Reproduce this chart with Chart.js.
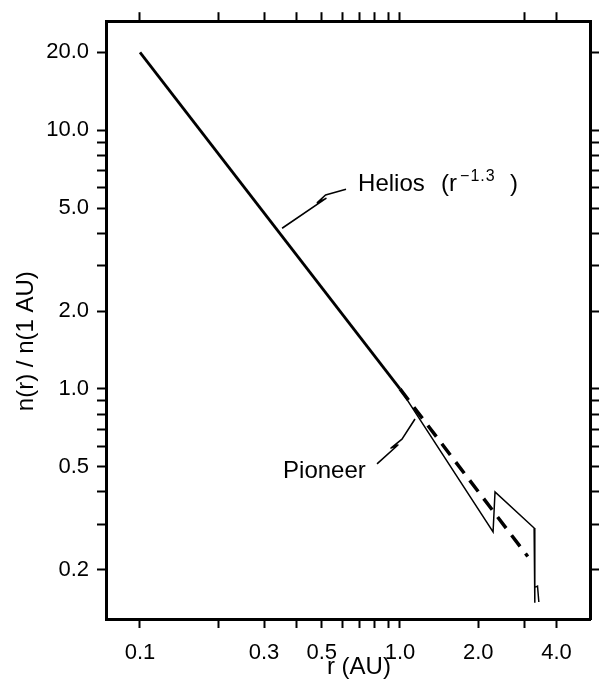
<!DOCTYPE html>
<html>
<head>
<meta charset="utf-8">
<script src="https://cdn.jsdelivr.net/npm/chart.js@4.4.0/dist/chart.umd.min.js"></script>
<style>
  body { margin: 0; background: #fff; }
  #wrap { width: 602px; height: 681px; }
</style>
</head>
<body>
<div id="wrap"><canvas id="density-chart"></canvas></div>
<script>
// Helios fit (r^-1.3), measured part and extrapolation
const heliosR = [0.1, 1.0];
const heliosN = [20.0, 1.0];
const heliosExtR = [1.0, 3.1];
const heliosExtN = [1.0, 0.225];
// Pioneer trace
const pioneerR = [1.0, 2.28, 2.32, 3.28, 3.30, 3.30, 3.38, 3.42];
const pioneerN = [1.0, 0.28, 0.40, 0.29, 0.149, 0.171, 0.173, 0.150];

const xTickValues = [0.1, 0.2, 0.3, 0.4, 0.5, 0.6, 0.7, 0.8, 0.9, 1, 2, 3, 4];
const xTopTickValues = [0.1, 0.2, 0.3, 0.4, 0.5, 0.6, 0.7, 0.8, 0.9, 1, 3, 4];
const xTickLabels = [0.1, 0.3, 0.5, 1, 2, 4];
const yTickValues = [0.2, 0.3, 0.4, 0.5, 0.6, 0.7, 0.8, 0.9, 1, 2, 3, 4, 5, 6, 7, 8, 9, 10, 20];
const yTickLabels = [0.2, 0.5, 1, 2, 5, 10, 20];

const toPoints = (xs, ys) => xs.map((v, i) => ({ x: v, y: ys[i] }));

// leader lines for the labels, in data coordinates (r, n)
const leaderLines = [
  [[0.620, 5.91], [0.517, 5.62], [0.481, 5.25], [0.519, 5.45], [0.352, 4.18]],
  [[0.816, 0.513], [0.982, 0.607], [0.923, 0.591], [1.018, 0.640], [1.142, 0.765]]
];

const FONT = "'Liberation Sans', Arial, sans-serif";

const xRange = { min: 0.074, max: 5.38 };
const yRange = { min: 0.129, max: 26.4 };

const annotations = {
  id: 'annotations',
  afterDatasetsDraw(chart) {
    const { ctx, chartArea } = chart;
    const x = chart.scales.x, y = chart.scales.y;
    ctx.save();
    ctx.strokeStyle = '#000';
    ctx.fillStyle = '#000';
    ctx.lineWidth = 1.6;
    ctx.lineJoin = 'round';
    leaderLines.forEach(pts => {
      ctx.beginPath();
      pts.forEach((p, i) => {
        const px = x.getPixelForValue(p[0]), py = y.getPixelForValue(p[1]);
        if (i) ctx.lineTo(px, py); else ctx.moveTo(px, py);
      });
      ctx.stroke();
    });

    ctx.textBaseline = 'alphabetic';
    ctx.textAlign = 'left';
    // Helios (r^-1.3)
    const hx = x.getPixelForValue(0.69), hy = y.getPixelForValue(5.81);
    ctx.font = '24px ' + FONT;
    ctx.fillText('Helios', hx, hy);
    ctx.fillText('(r', hx + 83, hy);
    ctx.font = '16px ' + FONT;
    ctx.letterSpacing = '1px';
    ctx.fillText('\u22121.3', hx + 102, hy - 10);
    ctx.letterSpacing = '0px';
    ctx.font = '24px ' + FONT;
    ctx.fillText(')', hx + 152, hy);

    // Pioneer
    ctx.fillText('Pioneer', x.getPixelForValue(0.355), y.getPixelForValue(0.453));

    // axis titles
    ctx.textAlign = 'center';
    ctx.textBaseline = 'middle';
    ctx.fillText('r (AU)', x.getPixelForValue(0.695), chartArea.bottom + 48);
    ctx.translate(26, y.getPixelForValue(1.53));
    ctx.rotate(-Math.PI / 2);
    ctx.fillText('n(r) / n(1 AU)', 0, 0);
    ctx.restore();
  }
};

const tickFont = { family: FONT, size: 22 };
const gridCommon = { drawOnChartArea: false, drawTicks: true, tickLength: 9, tickWidth: 2, tickColor: '#000' };
const borderCommon = { display: true, color: '#000', width: 3 };

new Chart(document.getElementById('density-chart'), {
  type: 'line',
  data: {
    datasets: [
      {
        label: 'Helios',
        data: toPoints(heliosR, heliosN),
        borderColor: '#000',
        borderWidth: 2.8,
        pointRadius: 0,
        fill: false
      },
      {
        label: 'Helios extrapolated',
        data: toPoints(heliosExtR, heliosExtN),
        borderColor: '#000',
        borderWidth: 3.5,
        borderDash: [14, 9],
        pointRadius: 0,
        fill: false
      },
      {
        label: 'Pioneer',
        data: toPoints(pioneerR, pioneerN),
        borderColor: '#000',
        borderWidth: 1.5,
        pointRadius: 0,
        fill: false
      }
    ]
  },
  options: {
    responsive: true,
    maintainAspectRatio: false,
    animation: false,
    layout: { padding: 0 },
    plugins: { legend: { display: false }, tooltip: { enabled: false } },
    scales: {
      x: {
        type: 'logarithmic',
        position: 'bottom',
        min: xRange.min, max: xRange.max,
        afterBuildTicks: s => { s.ticks = xTickValues.map(v => ({ value: v })); },
        afterFit: s => { s.height = 62; },
        ticks: {
          autoSkip: false, maxRotation: 0, minRotation: 0, padding: 12,
          color: '#000', font: tickFont,
          callback: v => xTickLabels.includes(v) ? v.toFixed(1) : ''
        },
        grid: gridCommon,
        border: borderCommon
      },
      xTop: {
        type: 'logarithmic',
        position: 'top',
        min: xRange.min, max: xRange.max,
        afterBuildTicks: s => { s.ticks = xTopTickValues.map(v => ({ value: v })); },
        afterFit: s => { s.height = 18; },
        ticks: { display: false, autoSkip: false },
        grid: gridCommon,
        border: borderCommon
      },
      y: {
        type: 'logarithmic',
        position: 'left',
        min: yRange.min, max: yRange.max,
        afterBuildTicks: s => { s.ticks = yTickValues.map(v => ({ value: v })); },
        afterFit: s => { s.width = 106; },
        ticks: {
          autoSkip: false, padding: 8,
          color: '#000', font: tickFont,
          callback: v => yTickLabels.includes(v) ? v.toFixed(1) : ''
        },
        grid: gridCommon,
        border: borderCommon
      },
      yRight: {
        type: 'logarithmic',
        position: 'right',
        min: yRange.min, max: yRange.max,
        afterBuildTicks: s => { s.ticks = yTickValues.map(v => ({ value: v })); },
        afterFit: s => { s.width = 12; },
        ticks: { display: false, autoSkip: false },
        grid: gridCommon,
        border: borderCommon
      }
    }
  },
  plugins: [annotations]
});
</script>
</body>
</html>
